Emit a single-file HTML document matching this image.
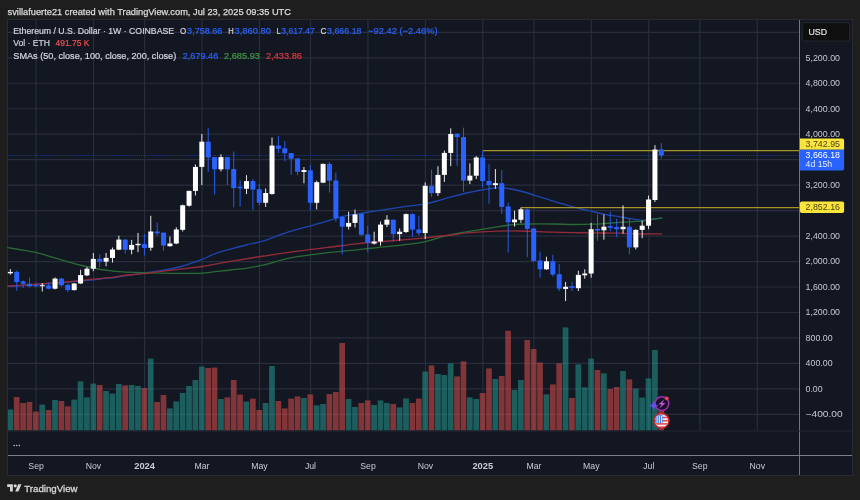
<!DOCTYPE html>
<html><head><meta charset="utf-8"><title>ETHUSD</title>
<style>
html,body{margin:0;padding:0;background:#1e1e1e;}
body{width:860px;height:500px;overflow:hidden;}
svg{display:block;}
svg text{font-family:"Liberation Sans",sans-serif;}
</style></head><body>
<svg width="860" height="500" viewBox="0 0 860 500">
<rect x="0" y="0" width="860" height="500" fill="#1e1e1e"/>
<rect x="7.5" y="19.5" width="845.0" height="456.0" fill="#131722" stroke="#2a2b30" stroke-width="1"/>
<g stroke="#292d3d" stroke-width="1.2"><line x1="36.10" y1="20.0" x2="36.10" y2="430.5"/><line x1="93.54" y1="20.0" x2="93.54" y2="430.5"/><line x1="144.59" y1="20.0" x2="144.59" y2="430.5"/><line x1="202.03" y1="20.0" x2="202.03" y2="430.5"/><line x1="259.47" y1="20.0" x2="259.47" y2="430.5"/><line x1="310.52" y1="20.0" x2="310.52" y2="430.5"/><line x1="367.96" y1="20.0" x2="367.96" y2="430.5"/><line x1="425.40" y1="20.0" x2="425.40" y2="430.5"/><line x1="482.84" y1="20.0" x2="482.84" y2="430.5"/><line x1="533.89" y1="20.0" x2="533.89" y2="430.5"/><line x1="591.33" y1="20.0" x2="591.33" y2="430.5"/><line x1="648.77" y1="20.0" x2="648.77" y2="430.5"/><line x1="699.83" y1="20.0" x2="699.83" y2="430.5"/><line x1="757.26" y1="20.0" x2="757.26" y2="430.5"/><line x1="8.0" y1="414.37" x2="799.5" y2="414.37"/><line x1="8.0" y1="388.90" x2="799.5" y2="388.90"/><line x1="8.0" y1="363.43" x2="799.5" y2="363.43"/><line x1="8.0" y1="337.96" x2="799.5" y2="337.96"/><line x1="8.0" y1="312.49" x2="799.5" y2="312.49"/><line x1="8.0" y1="287.02" x2="799.5" y2="287.02"/><line x1="8.0" y1="261.55" x2="799.5" y2="261.55"/><line x1="8.0" y1="236.08" x2="799.5" y2="236.08"/><line x1="8.0" y1="210.61" x2="799.5" y2="210.61"/><line x1="8.0" y1="185.14" x2="799.5" y2="185.14"/><line x1="8.0" y1="159.67" x2="799.5" y2="159.67"/><line x1="8.0" y1="134.20" x2="799.5" y2="134.20"/><line x1="8.0" y1="108.73" x2="799.5" y2="108.73"/><line x1="8.0" y1="83.26" x2="799.5" y2="83.26"/><line x1="8.0" y1="57.79" x2="799.5" y2="57.79"/><line x1="8.0" y1="32.32" x2="799.5" y2="32.32"/></g>
<g fill-opacity="0.5"><rect x="8.00" y="409.4" width="5.17" height="21.1" fill="#26a69a"/><rect x="13.85" y="397.0" width="5.70" height="33.5" fill="#ef5350"/><rect x="20.23" y="403.0" width="5.70" height="27.5" fill="#ef5350"/><rect x="26.62" y="402.0" width="5.70" height="28.5" fill="#ef5350"/><rect x="33.00" y="411.6" width="5.70" height="18.9" fill="#ef5350"/><rect x="39.38" y="404.6" width="5.70" height="25.9" fill="#26a69a"/><rect x="45.76" y="410.0" width="5.70" height="20.5" fill="#ef5350"/><rect x="52.14" y="400.0" width="5.70" height="30.5" fill="#26a69a"/><rect x="58.53" y="401.0" width="5.70" height="29.5" fill="#ef5350"/><rect x="64.91" y="406.4" width="5.70" height="24.1" fill="#ef5350"/><rect x="71.29" y="399.6" width="5.70" height="30.9" fill="#26a69a"/><rect x="77.67" y="381.4" width="5.70" height="49.1" fill="#26a69a"/><rect x="84.05" y="397.4" width="5.70" height="33.1" fill="#26a69a"/><rect x="90.44" y="383.6" width="5.70" height="46.9" fill="#26a69a"/><rect x="96.82" y="385.0" width="5.70" height="45.5" fill="#ef5350"/><rect x="103.20" y="391.0" width="5.70" height="39.5" fill="#26a69a"/><rect x="109.58" y="393.6" width="5.70" height="36.9" fill="#26a69a"/><rect x="115.96" y="384.0" width="5.70" height="46.5" fill="#26a69a"/><rect x="122.35" y="385.4" width="5.70" height="45.1" fill="#ef5350"/><rect x="128.73" y="385.0" width="5.70" height="45.5" fill="#26a69a"/><rect x="135.11" y="386.0" width="5.70" height="44.5" fill="#26a69a"/><rect x="141.49" y="388.0" width="5.70" height="42.5" fill="#ef5350"/><rect x="147.87" y="358.6" width="5.70" height="71.9" fill="#26a69a"/><rect x="154.26" y="402.0" width="5.70" height="28.5" fill="#ef5350"/><rect x="160.64" y="395.0" width="5.70" height="35.5" fill="#ef5350"/><rect x="167.02" y="408.4" width="5.70" height="22.1" fill="#26a69a"/><rect x="173.40" y="401.4" width="5.70" height="29.1" fill="#26a69a"/><rect x="179.78" y="393.0" width="5.70" height="37.5" fill="#26a69a"/><rect x="186.17" y="386.0" width="5.70" height="44.5" fill="#26a69a"/><rect x="192.55" y="380.0" width="5.70" height="50.5" fill="#26a69a"/><rect x="198.93" y="366.6" width="5.70" height="63.9" fill="#26a69a"/><rect x="205.31" y="368.0" width="5.70" height="62.5" fill="#ef5350"/><rect x="211.69" y="367.6" width="5.70" height="62.9" fill="#ef5350"/><rect x="218.08" y="399.0" width="5.70" height="31.5" fill="#26a69a"/><rect x="224.46" y="397.4" width="5.70" height="33.1" fill="#ef5350"/><rect x="230.84" y="380.0" width="5.70" height="50.5" fill="#ef5350"/><rect x="237.22" y="394.6" width="5.70" height="35.9" fill="#ef5350"/><rect x="243.60" y="401.6" width="5.70" height="28.9" fill="#26a69a"/><rect x="249.99" y="398.6" width="5.70" height="31.9" fill="#ef5350"/><rect x="256.37" y="410.0" width="5.70" height="20.5" fill="#ef5350"/><rect x="262.75" y="403.0" width="5.70" height="27.5" fill="#26a69a"/><rect x="269.13" y="366.0" width="5.70" height="64.5" fill="#26a69a"/><rect x="275.51" y="401.0" width="5.70" height="29.5" fill="#ef5350"/><rect x="281.90" y="408.4" width="5.70" height="22.1" fill="#ef5350"/><rect x="288.28" y="398.6" width="5.70" height="31.9" fill="#ef5350"/><rect x="294.66" y="396.4" width="5.70" height="34.1" fill="#ef5350"/><rect x="301.04" y="398.0" width="5.70" height="32.5" fill="#26a69a"/><rect x="307.42" y="394.4" width="5.70" height="36.1" fill="#ef5350"/><rect x="313.81" y="405.4" width="5.70" height="25.1" fill="#26a69a"/><rect x="320.19" y="404.0" width="5.70" height="26.5" fill="#26a69a"/><rect x="326.57" y="394.0" width="5.70" height="36.5" fill="#ef5350"/><rect x="332.95" y="392.0" width="5.70" height="38.5" fill="#ef5350"/><rect x="339.33" y="343.0" width="5.70" height="87.5" fill="#ef5350"/><rect x="345.72" y="399.0" width="5.70" height="31.5" fill="#26a69a"/><rect x="352.10" y="407.0" width="5.70" height="23.5" fill="#26a69a"/><rect x="358.48" y="403.0" width="5.70" height="27.5" fill="#ef5350"/><rect x="364.86" y="400.4" width="5.70" height="30.1" fill="#ef5350"/><rect x="371.24" y="405.0" width="5.70" height="25.5" fill="#26a69a"/><rect x="377.63" y="400.4" width="5.70" height="30.1" fill="#26a69a"/><rect x="384.01" y="403.0" width="5.70" height="27.5" fill="#26a69a"/><rect x="390.39" y="404.0" width="5.70" height="26.5" fill="#ef5350"/><rect x="396.77" y="407.4" width="5.70" height="23.1" fill="#26a69a"/><rect x="403.15" y="398.4" width="5.70" height="32.1" fill="#26a69a"/><rect x="409.54" y="403.0" width="5.70" height="27.5" fill="#ef5350"/><rect x="415.92" y="398.6" width="5.70" height="31.9" fill="#ef5350"/><rect x="422.30" y="371.6" width="5.70" height="58.9" fill="#26a69a"/><rect x="428.68" y="365.4" width="5.70" height="65.1" fill="#ef5350"/><rect x="435.06" y="374.0" width="5.70" height="56.5" fill="#26a69a"/><rect x="441.45" y="375.0" width="5.70" height="55.5" fill="#26a69a"/><rect x="447.83" y="363.4" width="5.70" height="67.1" fill="#26a69a"/><rect x="454.21" y="376.4" width="5.70" height="54.1" fill="#ef5350"/><rect x="460.59" y="361.4" width="5.70" height="69.1" fill="#ef5350"/><rect x="466.97" y="397.4" width="5.70" height="33.1" fill="#26a69a"/><rect x="473.36" y="399.0" width="5.70" height="31.5" fill="#26a69a"/><rect x="479.74" y="393.0" width="5.70" height="37.5" fill="#ef5350"/><rect x="486.12" y="368.4" width="5.70" height="62.1" fill="#ef5350"/><rect x="492.50" y="379.0" width="5.70" height="51.5" fill="#26a69a"/><rect x="498.88" y="376.0" width="5.70" height="54.5" fill="#ef5350"/><rect x="505.27" y="330.8" width="5.70" height="99.7" fill="#ef5350"/><rect x="511.65" y="390.0" width="5.70" height="40.5" fill="#26a69a"/><rect x="518.03" y="380.0" width="5.70" height="50.5" fill="#26a69a"/><rect x="524.41" y="340.0" width="5.70" height="90.5" fill="#ef5350"/><rect x="530.79" y="349.0" width="5.70" height="81.5" fill="#ef5350"/><rect x="537.18" y="362.6" width="5.70" height="67.9" fill="#ef5350"/><rect x="543.56" y="394.4" width="5.70" height="36.1" fill="#26a69a"/><rect x="549.94" y="384.4" width="5.70" height="46.1" fill="#ef5350"/><rect x="556.32" y="363.4" width="5.70" height="67.1" fill="#ef5350"/><rect x="562.70" y="327.4" width="5.70" height="103.1" fill="#26a69a"/><rect x="569.09" y="398.0" width="5.70" height="32.5" fill="#ef5350"/><rect x="575.47" y="364.4" width="5.70" height="66.1" fill="#26a69a"/><rect x="581.85" y="387.4" width="5.70" height="43.1" fill="#26a69a"/><rect x="588.23" y="358.6" width="5.70" height="71.9" fill="#26a69a"/><rect x="594.61" y="370.0" width="5.70" height="60.5" fill="#ef5350"/><rect x="601.00" y="373.4" width="5.70" height="57.1" fill="#26a69a"/><rect x="607.38" y="389.0" width="5.70" height="41.5" fill="#ef5350"/><rect x="613.76" y="387.0" width="5.70" height="43.5" fill="#ef5350"/><rect x="620.14" y="371.0" width="5.70" height="59.5" fill="#26a69a"/><rect x="626.52" y="379.4" width="5.70" height="51.1" fill="#ef5350"/><rect x="632.91" y="388.6" width="5.70" height="41.9" fill="#26a69a"/><rect x="639.29" y="397.6" width="5.70" height="32.9" fill="#26a69a"/><rect x="645.67" y="378.4" width="5.70" height="52.1" fill="#26a69a"/><rect x="652.05" y="350.0" width="5.70" height="80.5" fill="#26a69a"/><rect x="658.43" y="409.0" width="5.70" height="21.5" fill="#ef5350"/></g>
<path d="M7.7 286.4C12.4 286.1 26.0 285.4 35.8 284.7C45.6 284.0 56.9 283.2 66.5 282.4C76.1 281.6 86.6 280.6 93.4 279.9C100.2 279.2 103.8 278.4 107.4 278.0C111.0 277.6 112.4 277.8 115.0 277.5C117.6 277.2 118.1 276.7 122.8 276.0C127.5 275.3 136.5 274.2 143.3 273.2C150.1 272.2 157.8 271.1 163.7 270.1C169.6 269.1 174.3 268.2 179.0 267.0C183.7 265.8 188.1 264.2 191.9 262.9C195.8 261.6 198.2 260.8 202.1 259.3C206.0 257.8 210.5 255.4 215.3 253.7C220.1 252.0 225.6 250.5 230.7 249.1C235.8 247.7 240.4 246.4 246.0 245.0C251.6 243.6 258.0 242.7 264.0 240.9C270.0 239.1 276.4 236.1 281.9 234.2C287.4 232.3 292.1 230.9 297.2 229.4C302.3 227.9 307.5 226.7 312.6 225.3C317.7 223.9 322.8 222.4 327.9 220.9C333.0 219.4 338.2 217.5 343.3 216.3C348.4 215.1 353.5 214.7 358.6 213.8C363.7 213.0 368.9 212.0 374.0 211.2C379.1 210.4 384.2 209.7 389.3 208.9C394.4 208.1 400.4 207.2 404.7 206.6C409.0 206.0 411.8 205.8 415.3 205.3C418.8 204.8 421.8 204.6 425.6 203.8C429.5 203.0 434.1 201.8 438.4 200.7C442.7 199.5 446.5 198.2 451.2 196.9C455.9 195.6 461.4 194.2 466.5 193.0C471.6 191.8 476.8 190.8 481.9 190.0C487.0 189.2 492.9 188.2 497.2 187.9C501.4 187.6 503.6 187.9 507.4 188.4C511.2 188.9 515.5 189.8 520.2 191.0C524.9 192.2 530.1 193.9 535.6 195.6C541.1 197.3 547.1 199.3 553.5 201.2C559.9 203.1 567.6 205.4 574.0 207.1C580.4 208.8 586.8 210.2 591.9 211.4C597.0 212.6 600.0 213.4 604.7 214.3C609.4 215.2 616.0 216.1 620.0 216.8C624.0 217.5 625.0 217.8 628.8 218.4C632.6 219.0 639.1 220.1 642.8 220.3C646.5 220.5 647.9 219.9 651.0 219.6C654.1 219.2 659.9 218.4 661.7 218.2" fill="none" stroke="#1f46b0" stroke-width="1.35" stroke-linecap="round"/>
<path d="M7.7 247.6C10.7 248.1 20.9 249.9 25.6 250.7C30.3 251.5 31.5 251.4 35.8 252.4C40.1 253.4 46.1 255.3 51.2 256.8C56.3 258.3 61.4 259.9 66.5 261.4C71.6 262.8 77.4 264.4 81.9 265.5C86.4 266.6 89.2 267.2 93.4 268.0C97.7 268.8 102.5 269.8 107.4 270.4C112.3 271.0 116.8 271.5 122.8 271.9C128.8 272.3 136.5 272.5 143.3 272.7C150.1 272.9 156.9 273.1 163.7 273.2C170.5 273.3 177.8 273.4 184.2 273.4C190.6 273.4 196.9 273.5 202.1 273.2C207.3 272.9 210.5 272.1 215.3 271.6C220.1 271.1 225.6 270.6 230.7 270.0C235.8 269.4 240.4 269.2 246.0 268.3C251.6 267.4 258.0 266.3 264.0 264.9C270.0 263.5 276.4 261.2 281.9 259.8C287.4 258.4 292.1 257.6 297.2 256.7C302.3 255.8 307.5 255.4 312.6 254.7C317.7 254.0 320.2 253.5 327.9 252.7C335.6 251.8 351.9 250.3 358.6 249.6C365.3 248.9 363.0 249.1 368.1 248.5C373.2 247.9 384.0 246.8 389.3 246.3C394.6 245.8 395.7 245.8 400.0 245.3C404.3 244.8 411.0 244.0 415.3 243.4C419.6 242.8 421.8 242.6 425.6 241.7C429.5 240.8 434.1 239.0 438.4 237.8C442.7 236.6 446.5 235.7 451.2 234.7C455.9 233.7 461.4 232.8 466.5 231.9C471.6 231.0 476.8 230.2 481.9 229.4C487.0 228.6 492.1 227.6 497.2 226.8C502.3 226.0 507.5 225.2 512.6 224.7C517.7 224.2 521.1 224.1 527.9 224.0C534.7 223.9 545.8 223.9 553.5 224.0C561.2 224.1 567.6 224.5 574.0 224.5C580.4 224.5 586.8 224.4 591.9 224.2C597.0 224.0 600.0 223.8 604.7 223.5C609.4 223.2 616.0 222.7 620.0 222.4C624.0 222.1 625.0 222.2 628.8 221.9C632.6 221.6 639.1 221.2 642.8 220.8C646.5 220.4 647.9 220.0 651.0 219.5C654.1 219.0 659.9 218.2 661.7 218.0" fill="none" stroke="#2a6a34" stroke-width="1.35" stroke-linecap="round"/>
<path d="M7.7 286.2C12.4 285.9 26.0 284.9 35.8 284.2C45.6 283.5 56.9 282.7 66.5 281.9C76.1 281.1 85.3 280.0 93.4 279.2C101.5 278.4 110.1 277.7 115.0 277.1C119.9 276.5 118.1 276.3 122.8 275.7C127.5 275.1 136.5 274.5 143.3 273.7C150.1 272.9 156.9 272.0 163.7 271.1C170.5 270.2 177.8 269.4 184.2 268.6C190.6 267.8 194.3 267.7 202.1 266.5C209.8 265.3 220.4 263.1 230.7 261.4C241.0 259.6 252.9 257.7 264.0 256.0C275.1 254.3 286.6 252.5 297.2 251.1C307.8 249.7 317.7 248.7 327.9 247.4C338.1 246.2 348.4 244.7 358.6 243.6C368.8 242.5 378.1 242.0 389.3 241.0C400.5 240.0 415.3 238.8 425.6 237.8C435.9 236.8 444.4 235.8 451.2 235.0C458.0 234.2 461.4 233.4 466.5 232.9C471.6 232.4 476.8 232.2 481.9 231.9C487.0 231.6 492.1 231.3 497.2 231.1C502.3 230.9 506.6 230.8 512.6 230.9C518.6 231.0 526.2 231.2 533.0 231.4C539.8 231.6 546.7 232.0 553.5 232.2C560.3 232.4 567.6 232.6 574.0 232.7C580.4 232.8 584.2 232.8 591.9 232.9C599.6 233.0 612.0 233.0 620.0 233.2C628.0 233.4 633.0 233.9 640.0 234.0C647.0 234.1 658.1 233.8 661.7 233.8" fill="none" stroke="#952b3a" stroke-width="1.35" stroke-linecap="round"/>
<line x1="482.8" y1="150.57" x2="799.5" y2="150.57" stroke="#a5922c" stroke-width="1.15"/>
<line x1="521.1" y1="207.59" x2="799.5" y2="207.59" stroke="#a5922c" stroke-width="1.15"/>
<line x1="8.0" y1="155.46" x2="799.5" y2="155.46" stroke="#2962ff" stroke-opacity="0.5" stroke-width="1" stroke-dasharray="0.9 1.0"/>
<g><line x1="10.37" y1="269.1" x2="10.37" y2="274.7" stroke="#ffffff" stroke-width="0.9"/><line x1="16.75" y1="270.5" x2="16.75" y2="290.8" stroke="#2962ff" stroke-width="0.9"/><line x1="23.13" y1="280.3" x2="23.13" y2="288.0" stroke="#2962ff" stroke-width="0.9"/><line x1="29.52" y1="277.5" x2="29.52" y2="287.3" stroke="#2962ff" stroke-width="0.9"/><line x1="35.90" y1="282.4" x2="35.90" y2="287.3" stroke="#2962ff" stroke-width="0.9"/><line x1="42.28" y1="283.1" x2="42.28" y2="291.5" stroke="#ffffff" stroke-width="0.9"/><line x1="48.66" y1="282.4" x2="48.66" y2="289.4" stroke="#2962ff" stroke-width="0.9"/><line x1="55.04" y1="277.5" x2="55.04" y2="289.4" stroke="#ffffff" stroke-width="0.9"/><line x1="61.43" y1="277.9" x2="61.43" y2="286.6" stroke="#2962ff" stroke-width="0.9"/><line x1="67.81" y1="283.8" x2="67.81" y2="292.2" stroke="#2962ff" stroke-width="0.9"/><line x1="74.19" y1="283.1" x2="74.19" y2="290.5" stroke="#ffffff" stroke-width="0.9"/><line x1="80.57" y1="269.8" x2="80.57" y2="283.8" stroke="#ffffff" stroke-width="0.9"/><line x1="86.95" y1="267.0" x2="86.95" y2="276.1" stroke="#ffffff" stroke-width="0.9"/><line x1="93.34" y1="253.0" x2="93.34" y2="271.2" stroke="#ffffff" stroke-width="0.9"/><line x1="99.72" y1="254.1" x2="99.72" y2="267.0" stroke="#2962ff" stroke-width="0.9"/><line x1="106.10" y1="253.0" x2="106.10" y2="266.3" stroke="#ffffff" stroke-width="0.9"/><line x1="112.48" y1="247.5" x2="112.48" y2="262.5" stroke="#ffffff" stroke-width="0.9"/><line x1="118.86" y1="235.7" x2="118.86" y2="250.1" stroke="#ffffff" stroke-width="0.9"/><line x1="125.25" y1="238.9" x2="125.25" y2="253.6" stroke="#2962ff" stroke-width="0.9"/><line x1="131.63" y1="239.9" x2="131.63" y2="254.3" stroke="#ffffff" stroke-width="0.9"/><line x1="138.01" y1="232.9" x2="138.01" y2="252.2" stroke="#ffffff" stroke-width="0.9"/><line x1="144.39" y1="234.0" x2="144.39" y2="255.5" stroke="#2962ff" stroke-width="0.9"/><line x1="150.77" y1="215.8" x2="150.77" y2="250.8" stroke="#ffffff" stroke-width="0.9"/><line x1="157.16" y1="222.5" x2="157.16" y2="235.7" stroke="#2962ff" stroke-width="0.9"/><line x1="163.54" y1="232.6" x2="163.54" y2="250.8" stroke="#2962ff" stroke-width="0.9"/><line x1="169.92" y1="236.5" x2="169.92" y2="246.6" stroke="#ffffff" stroke-width="0.9"/><line x1="176.30" y1="227.3" x2="176.30" y2="244.1" stroke="#ffffff" stroke-width="0.9"/><line x1="182.68" y1="204.6" x2="182.68" y2="231.5" stroke="#ffffff" stroke-width="0.9"/><line x1="189.07" y1="190.6" x2="189.07" y2="206.7" stroke="#ffffff" stroke-width="0.9"/><line x1="195.45" y1="164.5" x2="195.45" y2="195.5" stroke="#ffffff" stroke-width="0.9"/><line x1="201.83" y1="134.0" x2="201.83" y2="185.1" stroke="#ffffff" stroke-width="0.9"/><line x1="208.21" y1="128.1" x2="208.21" y2="171.8" stroke="#2962ff" stroke-width="0.9"/><line x1="214.59" y1="157.1" x2="214.59" y2="194.5" stroke="#2962ff" stroke-width="0.9"/><line x1="220.98" y1="154.3" x2="220.98" y2="171.5" stroke="#ffffff" stroke-width="0.9"/><line x1="227.36" y1="157.1" x2="227.36" y2="185.2" stroke="#2962ff" stroke-width="0.9"/><line x1="233.74" y1="151.5" x2="233.74" y2="207.3" stroke="#2962ff" stroke-width="0.9"/><line x1="240.12" y1="180.3" x2="240.12" y2="206.6" stroke="#2962ff" stroke-width="0.9"/><line x1="246.50" y1="175.2" x2="246.50" y2="194.1" stroke="#ffffff" stroke-width="0.9"/><line x1="252.89" y1="179.2" x2="252.89" y2="209.8" stroke="#2962ff" stroke-width="0.9"/><line x1="259.27" y1="183.8" x2="259.27" y2="205.6" stroke="#2962ff" stroke-width="0.9"/><line x1="265.65" y1="188.5" x2="265.65" y2="207.0" stroke="#ffffff" stroke-width="0.9"/><line x1="272.03" y1="137.5" x2="272.03" y2="194.7" stroke="#ffffff" stroke-width="0.9"/><line x1="278.41" y1="136.1" x2="278.41" y2="153.2" stroke="#2962ff" stroke-width="0.9"/><line x1="284.80" y1="141.0" x2="284.80" y2="161.3" stroke="#2962ff" stroke-width="0.9"/><line x1="291.18" y1="153.1" x2="291.18" y2="174.9" stroke="#2962ff" stroke-width="0.9"/><line x1="297.56" y1="158.0" x2="297.56" y2="175.3" stroke="#2962ff" stroke-width="0.9"/><line x1="303.94" y1="167.0" x2="303.94" y2="183.3" stroke="#ffffff" stroke-width="0.9"/><line x1="310.32" y1="164.9" x2="310.32" y2="210.1" stroke="#2962ff" stroke-width="0.9"/><line x1="316.71" y1="180.7" x2="316.71" y2="209.4" stroke="#ffffff" stroke-width="0.9"/><line x1="323.09" y1="163.5" x2="323.09" y2="183.1" stroke="#ffffff" stroke-width="0.9"/><line x1="329.47" y1="162.1" x2="329.47" y2="192.6" stroke="#2962ff" stroke-width="0.9"/><line x1="335.85" y1="172.6" x2="335.85" y2="221.6" stroke="#2962ff" stroke-width="0.9"/><line x1="342.23" y1="215.6" x2="342.23" y2="254.4" stroke="#2962ff" stroke-width="0.9"/><line x1="348.62" y1="211.7" x2="348.62" y2="229.5" stroke="#ffffff" stroke-width="0.9"/><line x1="355.00" y1="209.6" x2="355.00" y2="227.5" stroke="#ffffff" stroke-width="0.9"/><line x1="361.38" y1="213.8" x2="361.38" y2="236.2" stroke="#2962ff" stroke-width="0.9"/><line x1="367.76" y1="225.7" x2="367.76" y2="252.3" stroke="#2962ff" stroke-width="0.9"/><line x1="374.14" y1="231.7" x2="374.14" y2="244.6" stroke="#ffffff" stroke-width="0.9"/><line x1="380.53" y1="221.5" x2="380.53" y2="245.7" stroke="#ffffff" stroke-width="0.9"/><line x1="386.91" y1="215.2" x2="386.91" y2="227.1" stroke="#ffffff" stroke-width="0.9"/><line x1="393.29" y1="219.7" x2="393.29" y2="241.8" stroke="#2962ff" stroke-width="0.9"/><line x1="399.67" y1="228.5" x2="399.67" y2="240.7" stroke="#ffffff" stroke-width="0.9"/><line x1="406.05" y1="213.5" x2="406.05" y2="233.1" stroke="#ffffff" stroke-width="0.9"/><line x1="412.44" y1="213.1" x2="412.44" y2="236.9" stroke="#2962ff" stroke-width="0.9"/><line x1="418.82" y1="215.9" x2="418.82" y2="235.5" stroke="#2962ff" stroke-width="0.9"/><line x1="425.20" y1="182.3" x2="425.20" y2="239.0" stroke="#ffffff" stroke-width="0.9"/><line x1="431.58" y1="169.7" x2="431.58" y2="196.7" stroke="#2962ff" stroke-width="0.9"/><line x1="437.96" y1="166.2" x2="437.96" y2="195.9" stroke="#ffffff" stroke-width="0.9"/><line x1="444.35" y1="150.5" x2="444.35" y2="181.9" stroke="#ffffff" stroke-width="0.9"/><line x1="450.73" y1="128.4" x2="450.73" y2="166.2" stroke="#ffffff" stroke-width="0.9"/><line x1="457.11" y1="133.7" x2="457.11" y2="165.9" stroke="#2962ff" stroke-width="0.9"/><line x1="463.49" y1="127.7" x2="463.49" y2="191.8" stroke="#2962ff" stroke-width="0.9"/><line x1="469.87" y1="163.4" x2="469.87" y2="184.1" stroke="#ffffff" stroke-width="0.9"/><line x1="476.26" y1="156.1" x2="476.26" y2="179.0" stroke="#ffffff" stroke-width="0.9"/><line x1="482.64" y1="150.8" x2="482.64" y2="187.7" stroke="#2962ff" stroke-width="0.9"/><line x1="489.02" y1="164.1" x2="489.02" y2="203.7" stroke="#2962ff" stroke-width="0.9"/><line x1="495.40" y1="169.0" x2="495.40" y2="188.8" stroke="#ffffff" stroke-width="0.9"/><line x1="501.78" y1="170.1" x2="501.78" y2="213.9" stroke="#2962ff" stroke-width="0.9"/><line x1="508.17" y1="202.7" x2="508.17" y2="252.5" stroke="#2962ff" stroke-width="0.9"/><line x1="514.55" y1="210.7" x2="514.55" y2="226.5" stroke="#ffffff" stroke-width="0.9"/><line x1="520.93" y1="207.5" x2="520.93" y2="222.9" stroke="#ffffff" stroke-width="0.9"/><line x1="527.31" y1="208.6" x2="527.31" y2="257.1" stroke="#2962ff" stroke-width="0.9"/><line x1="533.69" y1="227.8" x2="533.69" y2="262.3" stroke="#2962ff" stroke-width="0.9"/><line x1="540.08" y1="251.8" x2="540.08" y2="277.7" stroke="#2962ff" stroke-width="0.9"/><line x1="546.46" y1="256.7" x2="546.46" y2="270.0" stroke="#ffffff" stroke-width="0.9"/><line x1="552.84" y1="254.9" x2="552.84" y2="276.7" stroke="#2962ff" stroke-width="0.9"/><line x1="559.22" y1="264.1" x2="559.22" y2="291.0" stroke="#2962ff" stroke-width="0.9"/><line x1="565.60" y1="281.9" x2="565.60" y2="301.1" stroke="#ffffff" stroke-width="0.9"/><line x1="571.99" y1="281.5" x2="571.99" y2="291.3" stroke="#2962ff" stroke-width="0.9"/><line x1="578.37" y1="270.7" x2="578.37" y2="291.0" stroke="#ffffff" stroke-width="0.9"/><line x1="584.75" y1="269.3" x2="584.75" y2="278.7" stroke="#ffffff" stroke-width="0.9"/><line x1="591.13" y1="222.9" x2="591.13" y2="277.7" stroke="#ffffff" stroke-width="0.9"/><line x1="597.51" y1="214.5" x2="597.51" y2="240.7" stroke="#2962ff" stroke-width="0.9"/><line x1="603.90" y1="214.5" x2="603.90" y2="239.7" stroke="#ffffff" stroke-width="0.9"/><line x1="610.28" y1="211.7" x2="610.28" y2="231.3" stroke="#2962ff" stroke-width="0.9"/><line x1="616.66" y1="218.7" x2="616.66" y2="237.2" stroke="#2962ff" stroke-width="0.9"/><line x1="623.04" y1="205.4" x2="623.04" y2="233.7" stroke="#ffffff" stroke-width="0.9"/><line x1="629.42" y1="218.7" x2="629.42" y2="254.4" stroke="#2962ff" stroke-width="0.9"/><line x1="635.81" y1="229.2" x2="635.81" y2="249.5" stroke="#ffffff" stroke-width="0.9"/><line x1="642.19" y1="220.8" x2="642.19" y2="238.3" stroke="#ffffff" stroke-width="0.9"/><line x1="648.57" y1="195.6" x2="648.57" y2="229.2" stroke="#ffffff" stroke-width="0.9"/><line x1="654.95" y1="145.1" x2="654.95" y2="201.9" stroke="#ffffff" stroke-width="0.9"/><line x1="661.33" y1="143.1" x2="661.33" y2="158.6" stroke="#2962ff" stroke-width="0.9"/></g>
<g><rect x="7.87" y="271.9" width="5.0" height="1.4" fill="#ffffff"/><rect x="14.25" y="271.9" width="5.0" height="10.2" fill="#2962ff"/><rect x="20.63" y="281.4" width="5.0" height="2.4" fill="#2962ff"/><rect x="27.02" y="283.8" width="5.0" height="2.5" fill="#2962ff"/><rect x="33.40" y="285.2" width="5.0" height="1.1" fill="#2962ff"/><rect x="39.78" y="285.2" width="5.0" height="1.0" fill="#ffffff"/><rect x="46.16" y="285.5" width="5.0" height="3.2" fill="#2962ff"/><rect x="52.54" y="278.6" width="5.0" height="10.1" fill="#ffffff"/><rect x="58.93" y="278.6" width="5.0" height="6.6" fill="#2962ff"/><rect x="65.31" y="284.9" width="5.0" height="5.2" fill="#2962ff"/><rect x="71.69" y="283.5" width="5.0" height="6.6" fill="#ffffff"/><rect x="78.07" y="275.1" width="5.0" height="8.4" fill="#ffffff"/><rect x="84.45" y="268.7" width="5.0" height="6.7" fill="#ffffff"/><rect x="90.84" y="258.9" width="5.0" height="9.8" fill="#ffffff"/><rect x="97.22" y="258.9" width="5.0" height="2.8" fill="#2962ff"/><rect x="103.60" y="257.9" width="5.0" height="3.8" fill="#ffffff"/><rect x="109.98" y="249.5" width="5.0" height="8.4" fill="#ffffff"/><rect x="116.36" y="239.6" width="5.0" height="10.1" fill="#ffffff"/><rect x="122.75" y="239.6" width="5.0" height="10.1" fill="#2962ff"/><rect x="129.13" y="244.9" width="5.0" height="4.8" fill="#ffffff"/><rect x="135.51" y="243.8" width="5.0" height="1.4" fill="#ffffff"/><rect x="141.89" y="244.1" width="5.0" height="3.9" fill="#2962ff"/><rect x="148.27" y="231.5" width="5.0" height="16.2" fill="#ffffff"/><rect x="154.66" y="231.5" width="5.0" height="1.8" fill="#2962ff"/><rect x="161.04" y="232.6" width="5.0" height="12.9" fill="#2962ff"/><rect x="167.42" y="243.5" width="5.0" height="2.7" fill="#ffffff"/><rect x="173.80" y="229.5" width="5.0" height="14.0" fill="#ffffff"/><rect x="180.18" y="205.3" width="5.0" height="24.5" fill="#ffffff"/><rect x="186.57" y="190.9" width="5.0" height="14.8" fill="#ffffff"/><rect x="192.95" y="166.9" width="5.0" height="24.0" fill="#ffffff"/><rect x="199.33" y="141.7" width="5.0" height="25.2" fill="#ffffff"/><rect x="205.71" y="141.7" width="5.0" height="15.8" fill="#2962ff"/><rect x="212.09" y="157.1" width="5.0" height="12.2" fill="#2962ff"/><rect x="218.48" y="157.1" width="5.0" height="12.2" fill="#ffffff"/><rect x="224.86" y="157.1" width="5.0" height="12.2" fill="#2962ff"/><rect x="231.24" y="169.1" width="5.0" height="19.0" fill="#2962ff"/><rect x="237.62" y="186.7" width="5.0" height="1.6" fill="#2962ff"/><rect x="244.00" y="181.1" width="5.0" height="7.7" fill="#ffffff"/><rect x="250.39" y="181.1" width="5.0" height="8.4" fill="#2962ff"/><rect x="256.77" y="189.2" width="5.0" height="13.6" fill="#2962ff"/><rect x="263.15" y="193.0" width="5.0" height="9.8" fill="#ffffff"/><rect x="269.53" y="145.6" width="5.0" height="48.4" fill="#ffffff"/><rect x="275.91" y="145.6" width="5.0" height="3.1" fill="#2962ff"/><rect x="282.30" y="148.3" width="5.0" height="4.9" fill="#2962ff"/><rect x="288.68" y="153.1" width="5.0" height="5.6" fill="#2962ff"/><rect x="295.06" y="158.5" width="5.0" height="13.3" fill="#2962ff"/><rect x="301.44" y="170.1" width="5.0" height="1.9" fill="#ffffff"/><rect x="307.82" y="170.3" width="5.0" height="32.5" fill="#2962ff"/><rect x="314.21" y="182.2" width="5.0" height="20.6" fill="#ffffff"/><rect x="320.59" y="163.9" width="5.0" height="18.8" fill="#ffffff"/><rect x="326.97" y="163.9" width="5.0" height="16.8" fill="#2962ff"/><rect x="333.35" y="180.5" width="5.0" height="37.6" fill="#2962ff"/><rect x="339.73" y="217.0" width="5.0" height="9.7" fill="#2962ff"/><rect x="346.12" y="222.9" width="5.0" height="3.8" fill="#ffffff"/><rect x="352.50" y="214.5" width="5.0" height="8.4" fill="#ffffff"/><rect x="358.88" y="213.8" width="5.0" height="21.0" fill="#2962ff"/><rect x="365.26" y="234.5" width="5.0" height="8.4" fill="#2962ff"/><rect x="371.64" y="241.5" width="5.0" height="2.1" fill="#ffffff"/><rect x="378.03" y="224.6" width="5.0" height="16.9" fill="#ffffff"/><rect x="384.41" y="219.7" width="5.0" height="5.0" fill="#ffffff"/><rect x="390.79" y="219.7" width="5.0" height="14.4" fill="#2962ff"/><rect x="397.17" y="231.7" width="5.0" height="2.4" fill="#ffffff"/><rect x="403.55" y="214.1" width="5.0" height="17.9" fill="#ffffff"/><rect x="409.94" y="214.1" width="5.0" height="15.5" fill="#2962ff"/><rect x="416.32" y="229.5" width="5.0" height="3.6" fill="#2962ff"/><rect x="422.70" y="185.8" width="5.0" height="47.3" fill="#ffffff"/><rect x="429.08" y="185.8" width="5.0" height="7.3" fill="#2962ff"/><rect x="435.46" y="174.9" width="5.0" height="18.2" fill="#ffffff"/><rect x="441.85" y="152.9" width="5.0" height="22.0" fill="#ffffff"/><rect x="448.23" y="134.0" width="5.0" height="18.9" fill="#ffffff"/><rect x="454.61" y="133.7" width="5.0" height="3.4" fill="#2962ff"/><rect x="460.99" y="137.1" width="5.0" height="43.4" fill="#2962ff"/><rect x="467.37" y="175.7" width="5.0" height="4.8" fill="#ffffff"/><rect x="473.76" y="157.5" width="5.0" height="18.2" fill="#ffffff"/><rect x="480.14" y="157.5" width="5.0" height="23.5" fill="#2962ff"/><rect x="486.52" y="181.0" width="5.0" height="4.1" fill="#2962ff"/><rect x="492.90" y="183.2" width="5.0" height="1.9" fill="#ffffff"/><rect x="499.28" y="183.2" width="5.0" height="23.7" fill="#2962ff"/><rect x="505.67" y="206.5" width="5.0" height="15.8" fill="#2962ff"/><rect x="512.05" y="219.5" width="5.0" height="2.8" fill="#ffffff"/><rect x="518.43" y="209.3" width="5.0" height="10.5" fill="#ffffff"/><rect x="524.81" y="209.3" width="5.0" height="19.6" fill="#2962ff"/><rect x="531.19" y="228.5" width="5.0" height="32.4" fill="#2962ff"/><rect x="537.58" y="260.5" width="5.0" height="8.8" fill="#2962ff"/><rect x="543.96" y="261.3" width="5.0" height="8.0" fill="#ffffff"/><rect x="550.34" y="261.3" width="5.0" height="13.2" fill="#2962ff"/><rect x="556.72" y="274.2" width="5.0" height="14.4" fill="#2962ff"/><rect x="563.10" y="286.8" width="5.0" height="2.1" fill="#ffffff"/><rect x="569.49" y="286.1" width="5.0" height="1.8" fill="#2962ff"/><rect x="575.87" y="274.9" width="5.0" height="13.3" fill="#ffffff"/><rect x="582.25" y="273.5" width="5.0" height="1.8" fill="#ffffff"/><rect x="588.63" y="229.2" width="5.0" height="44.3" fill="#ffffff"/><rect x="595.01" y="228.9" width="5.0" height="1.7" fill="#2962ff"/><rect x="601.40" y="226.7" width="5.0" height="3.6" fill="#ffffff"/><rect x="607.78" y="226.1" width="5.0" height="1.7" fill="#2962ff"/><rect x="614.16" y="227.1" width="5.0" height="2.1" fill="#2962ff"/><rect x="620.54" y="226.8" width="5.0" height="2.4" fill="#ffffff"/><rect x="626.92" y="226.8" width="5.0" height="20.6" fill="#2962ff"/><rect x="633.31" y="229.9" width="5.0" height="17.5" fill="#ffffff"/><rect x="639.69" y="225.7" width="5.0" height="4.2" fill="#ffffff"/><rect x="646.07" y="199.5" width="5.0" height="26.2" fill="#ffffff"/><rect x="652.45" y="149.5" width="5.0" height="50.5" fill="#ffffff"/><rect x="658.83" y="149.5" width="5.0" height="6.0" fill="#2962ff"/></g>
<line x1="799.5" y1="20.0" x2="799.5" y2="475.0" stroke="#74767d" stroke-width="1"/>
<line x1="8.0" y1="455.5" x2="852.0" y2="455.5" stroke="#7e8086" stroke-width="1"/>
<line x1="8.0" y1="431.0" x2="852.0" y2="431.0" stroke="#232733" stroke-width="1"/>
<text x="7.6" y="14.8" font-size="9.2" fill="#dcdcdc" textLength="283.4" lengthAdjust="spacingAndGlyphs" stroke="#dcdcdc" stroke-width="0.25">svillafuerte21 created with TradingView.com, Jul 23, 2025 09:35 UTC</text>
<text x="13.3" y="34.2" font-size="8.9" fill="#d1d4dc" textLength="160.8" lengthAdjust="spacingAndGlyphs" stroke="#d1d4dc" stroke-width="0.2">Ethereum / U.S. Dollar · 1W · COINBASE</text>
<text x="180.1" y="34.2" font-size="8.9" fill="#d1d4dc" textLength="6.2" lengthAdjust="spacingAndGlyphs" stroke="#d1d4dc" stroke-width="0.2">O</text>
<text x="187.1" y="34.2" font-size="8.9" fill="#2962ff" textLength="35.3" lengthAdjust="spacingAndGlyphs" stroke="#2962ff" stroke-width="0.2">3,758.66</text>
<text x="228.3" y="34.2" font-size="8.9" fill="#d1d4dc" textLength="5.5" lengthAdjust="spacingAndGlyphs" stroke="#d1d4dc" stroke-width="0.2">H</text>
<text x="234.6" y="34.2" font-size="8.9" fill="#2962ff" textLength="36.3" lengthAdjust="spacingAndGlyphs" stroke="#2962ff" stroke-width="0.2">3,860.80</text>
<text x="276.6" y="34.2" font-size="8.9" fill="#d1d4dc" textLength="4.1" lengthAdjust="spacingAndGlyphs" stroke="#d1d4dc" stroke-width="0.2">L</text>
<text x="281.2" y="34.2" font-size="8.9" fill="#2962ff" textLength="33.7" lengthAdjust="spacingAndGlyphs" stroke="#2962ff" stroke-width="0.2">3,617.47</text>
<text x="320.4" y="34.2" font-size="8.9" fill="#d1d4dc" textLength="5.9" lengthAdjust="spacingAndGlyphs" stroke="#d1d4dc" stroke-width="0.2">C</text>
<text x="327" y="34.2" font-size="8.9" fill="#2962ff" textLength="34.5" lengthAdjust="spacingAndGlyphs" stroke="#2962ff" stroke-width="0.2">3,666.18</text>
<text x="368" y="34.2" font-size="8.9" fill="#2962ff" textLength="69.7" lengthAdjust="spacingAndGlyphs" stroke="#2962ff" stroke-width="0.2">−92.42 (−2.46%)</text>
<text x="13.3" y="46.4" font-size="8.9" fill="#d1d4dc" textLength="36.7" lengthAdjust="spacingAndGlyphs" stroke="#d1d4dc" stroke-width="0.2">Vol · ETH</text>
<text x="55.5" y="46.4" font-size="8.9" fill="#f2504d" textLength="33.8" lengthAdjust="spacingAndGlyphs" stroke="#f2504d" stroke-width="0.2">491.75 K</text>
<text x="13.3" y="58.6" font-size="8.9" fill="#d1d4dc" textLength="162.9" lengthAdjust="spacingAndGlyphs" stroke="#d1d4dc" stroke-width="0.2">SMAs (50, close, 100, close, 200, close)</text>
<text x="182.7" y="58.6" font-size="8.9" fill="#2962ff" textLength="35.6" lengthAdjust="spacingAndGlyphs" stroke="#2962ff" stroke-width="0.2">2,679.46</text>
<text x="224" y="58.6" font-size="8.9" fill="#3f9a43" textLength="35.9" lengthAdjust="spacingAndGlyphs" stroke="#3f9a43" stroke-width="0.2">2,685.93</text>
<text x="266" y="58.6" font-size="8.9" fill="#d83a3a" textLength="35.9" lengthAdjust="spacingAndGlyphs" stroke="#d83a3a" stroke-width="0.2">2,433.86</text>
<text x="805.6" y="417.2" font-size="8.7" fill="#c6c9d1" textLength="37.0" lengthAdjust="spacingAndGlyphs">−400.00</text>
<text x="805.6" y="391.7" font-size="8.7" fill="#c6c9d1" textLength="17.0" lengthAdjust="spacingAndGlyphs">0.00</text>
<text x="805.6" y="366.2" font-size="8.7" fill="#c6c9d1" textLength="27.0" lengthAdjust="spacingAndGlyphs">400.00</text>
<text x="805.6" y="340.8" font-size="8.7" fill="#c6c9d1" textLength="27.0" lengthAdjust="spacingAndGlyphs">800.00</text>
<text x="805.6" y="315.3" font-size="8.7" fill="#c6c9d1" textLength="34.4" lengthAdjust="spacingAndGlyphs">1,200.00</text>
<text x="805.6" y="289.8" font-size="8.7" fill="#c6c9d1" textLength="34.4" lengthAdjust="spacingAndGlyphs">1,600.00</text>
<text x="805.6" y="264.3" font-size="8.7" fill="#c6c9d1" textLength="34.4" lengthAdjust="spacingAndGlyphs">2,000.00</text>
<text x="805.6" y="238.9" font-size="8.7" fill="#c6c9d1" textLength="34.4" lengthAdjust="spacingAndGlyphs">2,400.00</text>
<text x="805.6" y="187.9" font-size="8.7" fill="#c6c9d1" textLength="34.4" lengthAdjust="spacingAndGlyphs">3,200.00</text>
<text x="805.6" y="137.0" font-size="8.7" fill="#c6c9d1" textLength="34.4" lengthAdjust="spacingAndGlyphs">4,000.00</text>
<text x="805.6" y="111.5" font-size="8.7" fill="#c6c9d1" textLength="34.4" lengthAdjust="spacingAndGlyphs">4,400.00</text>
<text x="805.6" y="86.1" font-size="8.7" fill="#c6c9d1" textLength="34.4" lengthAdjust="spacingAndGlyphs">4,800.00</text>
<text x="805.6" y="60.6" font-size="8.7" fill="#c6c9d1" textLength="34.4" lengthAdjust="spacingAndGlyphs">5,200.00</text>
<rect x="802.2" y="22.7" width="47.5" height="18.3" rx="2" fill="#0f0f10" stroke="#2a2d37" stroke-width="0.8"/>
<text x="808.5" y="35" font-size="8.8" fill="#e8e8ea" stroke="#e8e8ea" stroke-width="0.15">USD</text>
<path d="M800 138.4h42.3a1.8 1.8 0 0 1 1.8 1.8v9.6h-44.1z" fill="#fbe43b"/>
<text x="805.6" y="146.9" font-size="8.7" fill="#4a4515" textLength="34.4" lengthAdjust="spacingAndGlyphs">3,742.95</text>
<path d="M800 149.8h44.1v19a1.8 1.8 0 0 1 -1.8 1.8h-42.3z" fill="#2962ff"/>
<text x="805.6" y="157.9" font-size="8.7" fill="#ffffff" textLength="34.4" lengthAdjust="spacingAndGlyphs">3,666.18</text>
<text x="805.6" y="167.1" font-size="8.7" fill="#e6ecff" textLength="26.6" lengthAdjust="spacingAndGlyphs">4d 15h</text>
<rect x="800" y="201.4" width="44.1" height="11.6" rx="1.8" fill="#fbe43b"/>
<text x="805.6" y="210.2" font-size="8.7" fill="#4a4515" textLength="34.4" lengthAdjust="spacingAndGlyphs">2,852.16</text>
<text x="36.1" y="468.7" font-size="8.7" text-anchor="middle" fill="#c9ccd4">Sep</text>
<text x="93.5" y="468.7" font-size="8.7" text-anchor="middle" fill="#c9ccd4">Nov</text>
<text x="144.6" y="468.7" font-size="8.7" text-anchor="middle" fill="#c9ccd4" font-weight="bold" textLength="20.7" lengthAdjust="spacingAndGlyphs">2024</text>
<text x="202.0" y="468.7" font-size="8.7" text-anchor="middle" fill="#c9ccd4">Mar</text>
<text x="259.5" y="468.7" font-size="8.7" text-anchor="middle" fill="#c9ccd4">May</text>
<text x="310.5" y="468.7" font-size="8.7" text-anchor="middle" fill="#c9ccd4">Jul</text>
<text x="368.0" y="468.7" font-size="8.7" text-anchor="middle" fill="#c9ccd4">Sep</text>
<text x="425.4" y="468.7" font-size="8.7" text-anchor="middle" fill="#c9ccd4">Nov</text>
<text x="482.8" y="468.7" font-size="8.7" text-anchor="middle" fill="#c9ccd4" font-weight="bold" textLength="20.7" lengthAdjust="spacingAndGlyphs">2025</text>
<text x="533.9" y="468.7" font-size="8.7" text-anchor="middle" fill="#c9ccd4">Mar</text>
<text x="591.3" y="468.7" font-size="8.7" text-anchor="middle" fill="#c9ccd4">May</text>
<text x="648.8" y="468.7" font-size="8.7" text-anchor="middle" fill="#c9ccd4">Jul</text>
<text x="699.8" y="468.7" font-size="8.7" text-anchor="middle" fill="#c9ccd4">Sep</text>
<text x="757.3" y="468.7" font-size="8.7" text-anchor="middle" fill="#c9ccd4">Nov</text>
<circle cx="14.2" cy="445.4" r="0.75" fill="#c8cad0"/><circle cx="16.8" cy="445.4" r="0.75" fill="#c8cad0"/><circle cx="19.4" cy="445.4" r="0.75" fill="#c8cad0"/>
<g>
<circle cx="661.9" cy="403.6" r="6.9" fill="#1b1126" stroke="#9b2fae" stroke-width="1.6"/>
<path d="M664.6 398.9l-6.2 5.6h3.3l-2.6 4.3 6.4-5.9h-3.3z" fill="#c651de"/>
<circle cx="666.8" cy="398.3" r="1.9" fill="#f0454f"/>
<path d="M653.7 401.5q0.5 3.6 4.1 4.1q-3.6 0.5-4.1 4.1q-0.5-3.6-4.1-4.1q3.6-0.5 4.1-4.1z" fill="#6a4cf0" stroke="#6a4cf0" stroke-width="0.6" stroke-linejoin="round"/>
<circle cx="661.5" cy="420.8" r="7.3" fill="#f4f4f6" stroke="#bf2a33" stroke-width="1.8"/>
<clipPath id="fc"><circle cx="661.5" cy="420.8" r="6.4"/></clipPath>
<g clip-path="url(#fc)">
<rect x="654" y="413" width="15" height="15" fill="#f4f4f6"/>
<rect x="654" y="416.7" width="15" height="1.6" fill="#e0474c"/>
<rect x="654" y="419.9" width="15" height="1.6" fill="#e0474c"/>
<rect x="654" y="423.1" width="15" height="1.6" fill="#e0474c"/>
<rect x="654" y="426.3" width="15" height="1.6" fill="#e0474c"/>
<rect x="654" y="413" width="8.6" height="10.1" fill="#3f7be0"/>
<rect x="656.6" y="415.5" width="1.1" height="7.6" fill="#dfe9fb"/><rect x="658.8" y="415.5" width="1.1" height="7.6" fill="#dfe9fb"/><rect x="661" y="415.5" width="1.1" height="7.6" fill="#dfe9fb"/>
</g></g>
<g transform="translate(7.2,484.2) scale(0.4)" fill="#d6d6d6"><path d="M14 18H7V7H0V0h14v18z"/><circle cx="20" cy="4" r="4"/><path d="M28 18h-8l7.5-18h8L28 18z"/></g>
<text x="24.2" y="491.9" font-size="9.1" fill="#d6d6d6" stroke="#d6d6d6" stroke-width="0.3" textLength="53.4" lengthAdjust="spacingAndGlyphs">TradingView</text>
</svg>
</body></html>
